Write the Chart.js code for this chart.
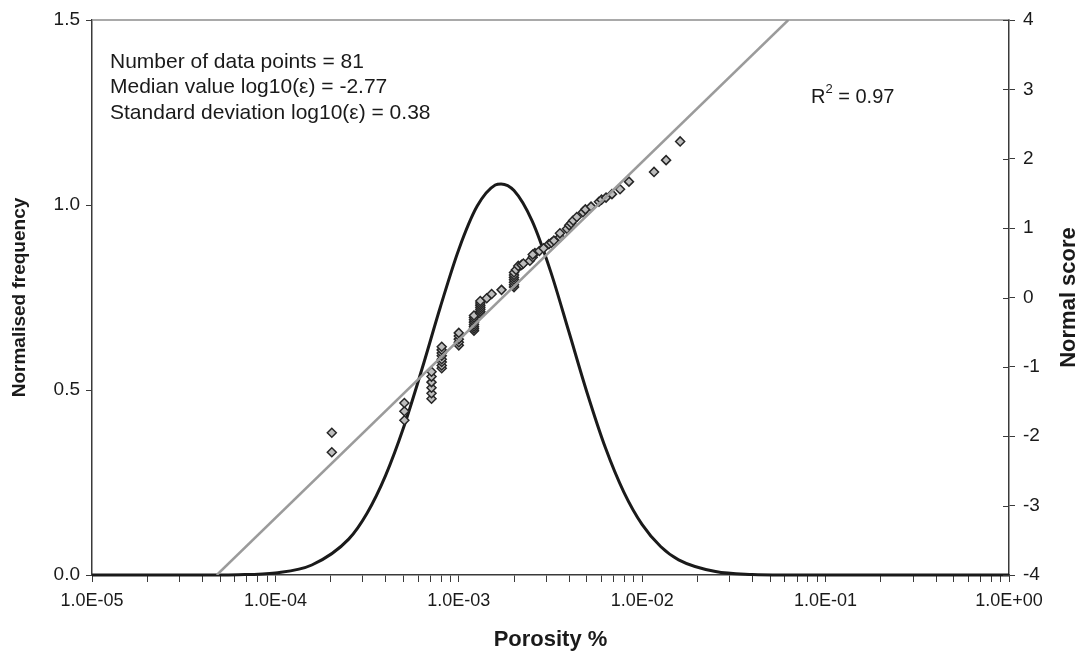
<!DOCTYPE html>
<html>
<head>
<meta charset="utf-8">
<script src="https://cdn.jsdelivr.net/npm/chart.js@4.4.1/dist/chart.umd.min.js"></script>
<style>
  html, body { margin: 0; padding: 0; background: #ffffff; }
  #wrap { width: 1083px; height: 658px; position: relative; }
</style>
</head>
<body>
<div id="wrap"><canvas id="c" width="1083" height="658"></canvas></div>
<script>
// ---------- data ----------
// Normal distribution curve (normalised frequency, left axis)
const curveX = [1e-5, 3.16e-5, 6.31e-5, 1.0e-4, 1.58e-4, 2.51e-4, 3.16e-4, 3.98e-4, 5.01e-4, 6.31e-4, 7.94e-4,
                1.0e-3, 1.26e-3, 1.58e-3, 1.70e-3, 2.0e-3, 2.51e-3, 3.16e-3, 3.98e-3, 5.01e-3, 6.31e-3, 7.94e-3,
                1.0e-2, 1.26e-2, 1.58e-2, 2.51e-2, 3.98e-2, 6.31e-2, 0.1, 1.0];
const curveY = [0, 0.0000, 0.0009, 0.0056, 0.027, 0.097, 0.167, 0.268, 0.400, 0.558, 0.725,
                0.880, 0.997, 1.054, 1.057, 1.039, 0.957, 0.822, 0.658, 0.492, 0.343, 0.224,
                0.136, 0.077, 0.041, 0.0093, 0.0016, 0.0002, 0, 0];

// Fitted straight line (normal score, right axis)
const fitX = [4.79e-5, 6.26e-2];
const fitY = [-4, 4];

// Observed porosity values and their normal scores (right axis)
const porosity = [
  2.03e-4, 2.03e-4,
  5.05e-4, 5.05e-4, 5.05e-4,
  7.1e-4, 7.1e-4, 7.1e-4, 7.1e-4, 7.1e-4, 7.1e-4,
  8.07e-4, 8.07e-4, 8.07e-4, 8.07e-4, 8.07e-4, 8.07e-4, 8.07e-4, 8.07e-4,
  1.0e-3, 1.0e-3, 1.0e-3, 1.0e-3, 1.0e-3,
  1.21e-3, 1.21e-3, 1.21e-3, 1.21e-3, 1.21e-3, 1.21e-3, 1.21e-3, 1.21e-3,
  1.31e-3, 1.31e-3, 1.31e-3, 1.31e-3, 1.31e-3, 1.31e-3, 1.31e-3,
  1.42e-3, 1.51e-3, 1.71e-3,
  2.0e-3, 2.0e-3, 2.0e-3, 2.0e-3, 2.0e-3, 2.0e-3, 2.0e-3,
  2.05e-3, 2.11e-3, 2.2e-3, 2.25e-3, 2.44e-3, 2.53e-3, 2.6e-3, 2.53e-3, 2.75e-3, 2.90e-3,
  3.10e-3, 3.2e-3, 3.30e-3, 3.56e-3, 3.56e-3, 3.89e-3, 4.00e-3, 4.1e-3, 4.20e-3, 4.40e-3,
  4.75e-3, 4.90e-3, 5.26e-3, 5.81e-3, 6.00e-3, 6.35e-3, 6.84e-3, 7.57e-3, 8.47e-3,
  1.16e-2, 1.35e-2, 1.61e-2
];
const normalScore = [
  -2.23, -1.95,
  -1.77, -1.64, -1.52,
  -1.46, -1.38, -1.30, -1.22, -1.14, -1.07,
  -1.02, -0.98, -0.93, -0.89, -0.84, -0.80, -0.755, -0.71,
  -0.69, -0.645, -0.60, -0.555, -0.51,
  -0.48, -0.45, -0.42, -0.39, -0.355, -0.32, -0.29, -0.26,
  -0.23, -0.20, -0.17, -0.14, -0.11, -0.08, -0.05,
  -0.01, 0.05, 0.11,
  0.15, 0.185, 0.22, 0.255, 0.29, 0.325, 0.36,
  0.40, 0.455, 0.47, 0.49, 0.53, 0.58, 0.64, 0.62, 0.67, 0.71,
  0.77, 0.79, 0.82, 0.87, 0.925, 0.99, 1.04, 1.07, 1.11, 1.16,
  1.23, 1.27, 1.31, 1.38, 1.41, 1.44, 1.49, 1.56, 1.67,
  1.81, 1.98, 2.25
];

// Tick labels
const xTickLabels = ['1.0E-05', '1.0E-04', '1.0E-03', '1.0E-02', '1.0E-01', '1.0E+00'];
const yTickLabels = ['0.0', '0.5', '1.0', '1.5'];
const y2TickLabels = ['-4', '-3', '-2', '-1', '0', '1', '2', '3', '4'];

// Text annotations
const infoLines = ['Number of data points = 81', 'Median value log10(\u03b5) = -2.77', 'Standard deviation log10(\u03b5) = 0.38'];
const r2Text = { base: 'R', sup: '2', rest: ' = 0.97' };
const xTitle = 'Porosity %';
const yTitle = 'Normalised frequency';
const y2Title = 'Normal score';

// ---------- chart ----------
const FONT = '"Liberation Sans", Arial, Helvetica, sans-serif';
const AXIS = '#3a3a3a';
const TXT = 21;

const overlay = {
  id: 'overlay',
  afterDraw(chart) {
    const { ctx, chartArea: a } = chart;
    const y2 = chart.scales.y2;
    ctx.save();
    // top frame line
    ctx.strokeStyle = '#8c8c8c';
    ctx.lineWidth = 1.5;
    ctx.beginPath(); ctx.moveTo(a.left, a.top); ctx.lineTo(a.right, a.top); ctx.stroke();
    // inner halves of right axis tick marks
    ctx.strokeStyle = AXIS; ctx.lineWidth = 1;
    y2.ticks.forEach(t => {
      const py = Math.round(y2.getPixelForValue(t.value)) + 0.5;
      ctx.beginPath(); ctx.moveTo(a.right - 6, py); ctx.lineTo(a.right, py); ctx.stroke();
    });
    // info text
    ctx.fillStyle = '#1a1a1a';
    ctx.font = TXT + 'px ' + FONT;
    ctx.textAlign = 'left';
    ctx.textBaseline = 'middle';
    infoLines.forEach((t, i) => ctx.fillText(t, 110, 62 + i * 25.5));
    // R^2
    let x = 811, yy = 97;
    ctx.font = '20px ' + FONT;
    ctx.fillText(r2Text.base, x, yy);
    x += ctx.measureText(r2Text.base).width;
    ctx.font = '13px ' + FONT;
    ctx.fillText(r2Text.sup, x, yy - 8);
    x += ctx.measureText(r2Text.sup).width;
    ctx.font = '20px ' + FONT;
    ctx.fillText(r2Text.rest, x, yy);
    // right axis title (reads bottom to top)
    ctx.translate(1069, (a.top + a.bottom) / 2);
    ctx.rotate(-Math.PI / 2);
    ctx.textAlign = 'center';
    ctx.font = 'bold 22px ' + FONT;
    ctx.fillText(y2Title, 0, 0);
    ctx.restore();
  }
};

new Chart(document.getElementById('c'), {
  type: 'scatter',
  data: {
    datasets: [
      {
        type: 'line', label: 'Normal distribution',
        data: curveX.map((v, i) => ({ x: v, y: curveY[i] })),
        yAxisID: 'y', borderColor: '#1a1a1a', borderWidth: 3, pointRadius: 0,
        cubicInterpolationMode: 'monotone', fill: false, clip: false, order: 3
      },
      {
        type: 'scatter', label: 'Data',
        data: porosity.map((v, i) => ({ x: v, y: normalScore[i] })),
        yAxisID: 'y2', pointStyle: 'rectRot', pointRadius: 4.5, pointHoverRadius: 4.5,
        backgroundColor: '#bdbdbd', borderColor: '#262626', borderWidth: 1.5, order: 2
      },
      {
        type: 'line', label: 'Fit',
        data: fitX.map((v, i) => ({ x: v, y: fitY[i] })),
        yAxisID: 'y2', borderColor: '#9b9b9b', borderWidth: 2.5, pointRadius: 0, fill: false, order: 1
      }
    ]
  },
  options: {
    responsive: false,
    animation: false,
    events: [],
    layout: { padding: { top: 20, left: 0, right: 0, bottom: 0 } },
    plugins: { legend: { display: false }, tooltip: { enabled: false } },
    scales: {
      x: {
        type: 'logarithmic', position: 'bottom', min: 1e-5, max: 1,
        afterBuildTicks(scale) {
          const t = [];
          for (let e = -5; e < 0; e++) for (let m = 1; m <= 9; m++) t.push({ value: m * Math.pow(10, e) });
          t.push({ value: 1 });
          scale.ticks = t;
        },
        afterFit(scale) { scale.height = 83; },
        ticks: {
          autoSkip: false, maxRotation: 0, minRotation: 0, padding: 8,
          color: '#1a1a1a', font: { family: FONT, size: 18 },
          callback(value) {
            const l = Math.log10(value);
            const r = Math.round(l);
            return Math.abs(l - r) < 1e-6 ? xTickLabels[r + 5] : '';
          }
        },
        grid: { drawOnChartArea: false, drawTicks: true, tickLength: 7, color: AXIS },
        border: { color: AXIS, width: 1.5 },
        title: { display: true, text: xTitle, color: '#1a1a1a', font: { family: FONT, size: 22, weight: 'bold' }, padding: { top: 0, bottom: 5 } }
      },
      y: {
        position: 'left', min: 0, max: 1.5,
        afterBuildTicks(scale) { scale.ticks = yTickLabels.map(v => ({ value: parseFloat(v) })); },
        afterFit(scale) { scale.width = 92; },
        ticks: {
          padding: 6, color: '#1a1a1a', font: { family: FONT, size: 19 },
          callback(value, i) { return yTickLabels[i]; }
        },
        grid: { drawOnChartArea: false, drawTicks: true, tickLength: 6, color: AXIS },
        border: { color: AXIS, width: 1.5 },
        title: { display: true, text: yTitle, color: '#1a1a1a', font: { family: FONT, size: 19, weight: 'bold' }, padding: { top: 8, bottom: 0 } }
      },
      y2: {
        position: 'right', min: -4, max: 4,
        afterBuildTicks(scale) { scale.ticks = y2TickLabels.map(v => ({ value: parseFloat(v) })); },
        afterFit(scale) { scale.width = 74; },
        ticks: {
          padding: 8, color: '#1a1a1a', font: { family: FONT, size: 19 },
          callback(value, i) { return y2TickLabels[i]; }
        },
        grid: { drawOnChartArea: false, drawTicks: true, tickLength: 6, color: AXIS },
        border: { color: AXIS, width: 1.5 }
      }
    }
  },
  plugins: [overlay]
});
</script>
</body>
</html>
